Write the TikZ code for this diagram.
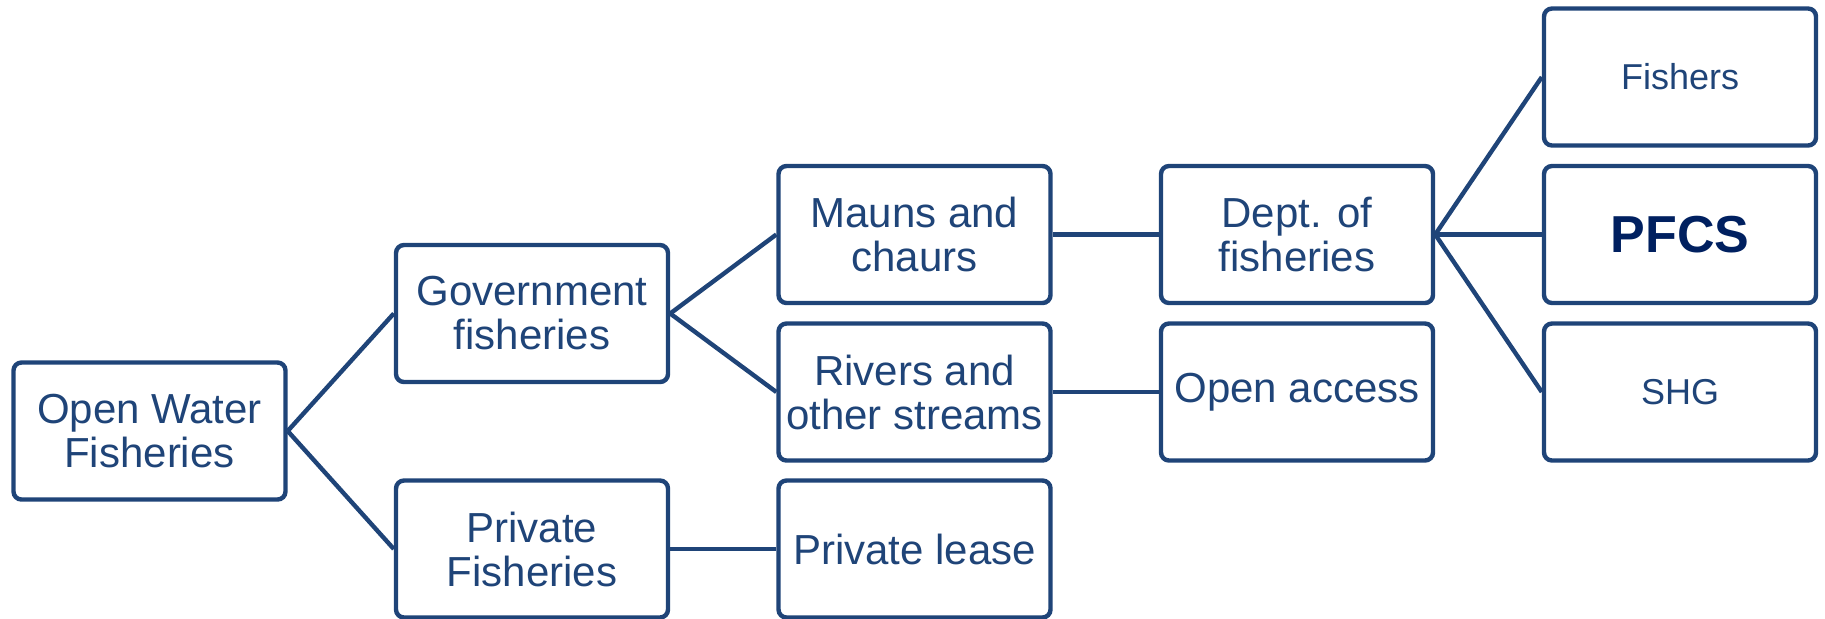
\documentclass[tikz,border=0pt]{standalone}
\usepackage{fontspec}
\setmainfont{Liberation Sans}
\usepackage{tikz}
\definecolor{boxblue}{HTML}{1F4478}
\definecolor{navy}{HTML}{002060}
\tikzstyle{box}=[draw=boxblue,line width=2.2pt,rounded corners=4pt,minimum width=136pt,minimum height=68.5pt,align=center,text=boxblue,inner sep=1pt,font=\fontsize{21}{22}\selectfont]
\tikzstyle{smallbox}=[box,font=\fontsize{18}{20}\selectfont]
\tikzstyle{link}=[draw=boxblue,line width=2.2pt]

\begin{document}
\begin{tikzpicture}[x=0.5pt,y=-0.5pt]
  \useasboundingbox (0,0) rectangle (1825,618);
  % first two levels
  \node[box] (open) at (149.5,431) {Open Water\\Fisheries};
  \node[box] (govt) at (532,313.5) {Government\\fisheries};
  \node[box] (priv) at (532,549) {Private\\Fisheries};
  \node[box] (mauns) at (914.5,234.5) {Mauns and\\chaurs};
  \node[box] (rivers) at (914.5,392) {Rivers and\\other streams};
  \node[box] (lease) at (914.5,549) {Private lease};
  \node[box] (dept) at (1297,234.5) {Dept. of\\fisheries};
  \node[box] (access) at (1297,392) {Open access};
  % right column
  \node[smallbox] (fishers) at (1680,77) {Fishers};
  \node[box,text=navy,font=\fontsize{26}{28}\selectfont\bfseries] (pfcs) at (1680,234.5) {PFCS};
  \node[smallbox] (shg) at (1680,392) {SHG};
  \foreach \a/\b in {open/govt,open/priv,govt/mauns,govt/rivers,priv/lease,mauns/dept,rivers/access,dept/fishers,dept/pfcs,dept/shg}
    \draw[link] (\a.east) -- (\b.west);
\end{tikzpicture}
\end{document}
